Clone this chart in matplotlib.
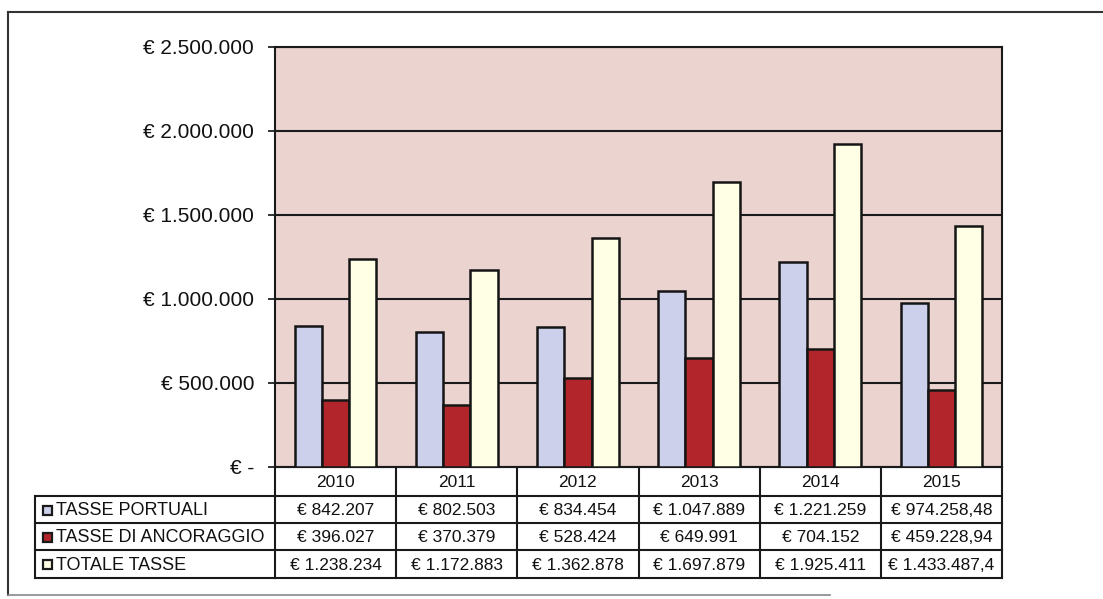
import matplotlib.pyplot as plt
import matplotlib.transforms as mtransforms
from matplotlib.patches import Rectangle

years = ["2010", "2011", "2012", "2013", "2014", "2015"]
series_names = ["TASSE PORTUALI", "TASSE DI ANCORAGGIO", "TOTALE TASSE"]
tasse_portuali = [842207, 802503, 834454, 1047889, 1221259, 974258.48]
tasse_ancoraggio = [396027, 370379, 528424, 649991, 704152, 459228.94]
totale_tasse = [1238234, 1172883, 1362878, 1697879, 1925411, 1433487.42]
table_text = [
    ["€ 842.207", "€ 802.503", "€ 834.454", "€ 1.047.889", "€ 1.221.259", "€ 974.258,48"],
    ["€ 396.027", "€ 370.379", "€ 528.424", "€ 649.991", "€ 704.152", "€ 459.228,94"],
    ["€ 1.238.234", "€ 1.172.883", "€ 1.362.878", "€ 1.697.879", "€ 1.925.411", "€ 1.433.487,4"],
]
yticks = [0, 500000, 1000000, 1500000, 2000000, 2500000]
ytick_labels = ["€ -", "€ 500.000", "€ 1.000.000", "€ 1.500.000", "€ 2.000.000", "€ 2.500.000"]

colors = ["#CCD0EA", "#B2262B", "#FFFFE6"]
bg = "#EBD4D0"

plt.rcParams["font.family"] = ["Liberation Sans", "DejaVu Sans"]

W, H = 1103, 599
fig = plt.figure(figsize=(W / 100, H / 100), dpi=100)

# overlay in pixel coordinates for the frame and the data table
ov = fig.add_axes([0, 0, 1, 1])
ov.set_xlim(0, W)
ov.set_ylim(H, 0)
ov.axis("off")

left, right, top, bottom = 275, 1002, 47, 467
ax = fig.add_axes([left / W, (H - bottom) / H, (right - left) / W, (bottom - top) / H])
ax.set_facecolor(bg)

w = 0.225
series = [tasse_portuali, tasse_ancoraggio, totale_tasse]
for k, vals in enumerate(series):
    xs = [i + (k - 1) * w for i in range(len(years))]
    ax.bar(xs, vals, width=w, color=colors[k], edgecolor="#151515", linewidth=1.8, zorder=3)

ax.set_xlim(-0.5, len(years) - 0.5)
ax.set_ylim(0, 2500000)
ax.set_yticks(yticks)
ax.set_yticklabels(ytick_labels, fontsize=15, color="#111111")
ax.set_xticks([])
ax.tick_params(axis="y", length=5, width=1.3, pad=10, color="#222222")
ax.grid(axis="y", color="#1a1a1a", linewidth=1.5, zorder=1)
for s in ax.spines.values():
    s.set_color("#1a1a1a")
    s.set_linewidth(1.5)

# outer frame
ov.plot([8, W], [12, 12], color="#333333", lw=1.5)
ov.plot([8, 8], [12, 595], color="#333333", lw=1.5)
ov.plot([8, 830], [595, 595], color="#888888", lw=1.2)

# data table
tr = mtransforms.blended_transform_factory(ax.transData, ov.transData)
row_edges = [467, 496, 523, 550, 578]
lab_left = 35
line_kw = dict(color="#1a1a1a", lw=1.5, clip_on=False)

for y in row_edges:
    ov.plot([left, right], [y, y], **line_kw)
for y in row_edges[1:]:
    ov.plot([lab_left, left], [y, y], **line_kw)
ov.plot([lab_left, lab_left], [row_edges[1], row_edges[-1]], **line_kw)
for i in range(len(years) + 1):
    ov.plot([i - 0.5, i - 0.5], [row_edges[0], row_edges[-1]], transform=tr, **line_kw)

for i, yr in enumerate(years):
    ov.text(i, (row_edges[0] + row_edges[1]) / 2 + 1, yr, transform=tr,
            ha="center", va="center", fontsize=12.5, color="#111111")

for r, name in enumerate(series_names):
    yc = (row_edges[r + 1] + row_edges[r + 2]) / 2 + 1
    ov.add_patch(Rectangle((43, yc - 5), 9, 9, facecolor=colors[r],
                           edgecolor="#1a1a1a", lw=1.6))
    ov.text(56, yc, name, ha="left", va="center", fontsize=13, color="#111111")
    for i in range(len(years)):
        ov.text(i, yc, table_text[r][i], transform=tr,
                ha="center", va="center", fontsize=12.5, color="#111111")

fig.savefig("out.png", dpi=100)
